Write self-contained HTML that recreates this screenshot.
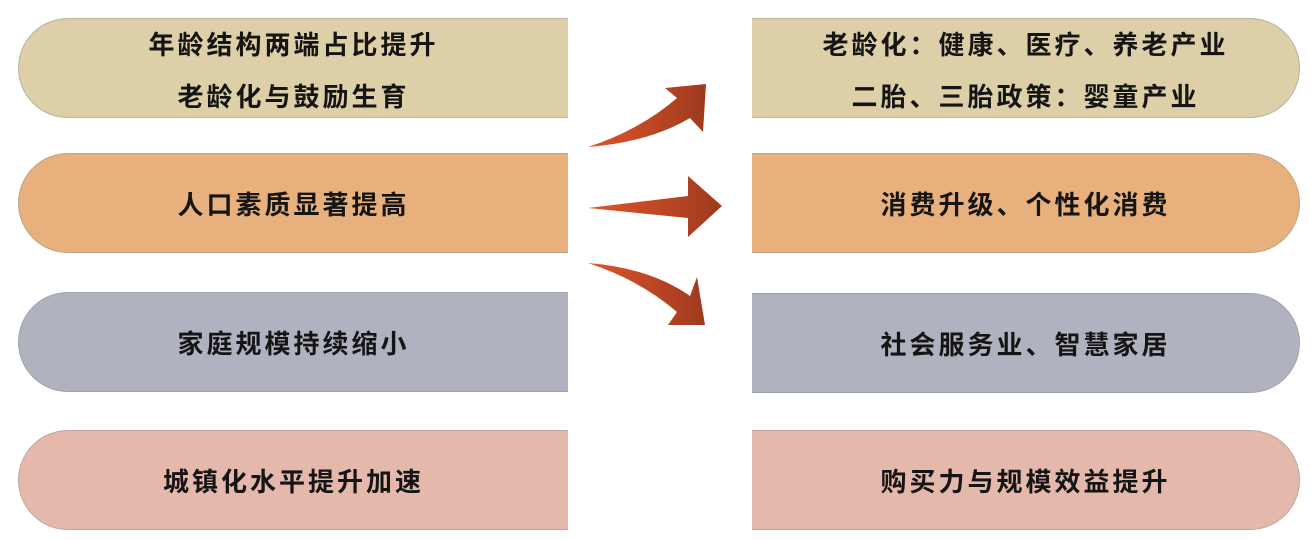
<!DOCTYPE html>
<html><head><meta charset="utf-8"><style>
body{margin:0;width:1311px;height:540px;background:#fff;position:relative;overflow:hidden;font-family:"Liberation Sans","Noto Sans CJK SC",sans-serif;}
.b{position:absolute;height:100px;display:flex;flex-direction:column;align-items:center;justify-content:center;font-size:26px;letter-spacing:3px;font-weight:bold;color:#151515;box-sizing:border-box;border:1.5px solid rgba(150,150,150,0.5);}
.l{left:18px;width:550px;border-radius:50px 0 0 50px;border-right:none;}
.r{left:752px;width:548px;border-radius:0 50px 50px 0;border-left:none;}
.b div{line-height:52px;}
.t{padding-top:6px;}
</style></head><body>
<div class="b l t" style="top:18px;background:#ddd0a8"><div>年龄结构两端占比提升</div><div>老龄化与鼓励生育</div></div>
<div class="b l" style="top:153px;background:#e8b07c">人口素质显著提高</div>
<div class="b l" style="top:292px;background:#b0b2c0">家庭规模持续缩小</div>
<div class="b l" style="top:430px;background:#e5b8ac">城镇化水平提升加速</div>
<div class="b r t" style="top:18px;background:#ddd0a8"><div>老龄化：健康、医疗、养老产业</div><div>二胎、三胎政策：婴童产业</div></div>
<div class="b r" style="top:153px;background:#e8b07c">消费升级、个性化消费</div>
<div class="b r" style="top:293px;background:#b0b2c0">社会服务业、智慧家居</div>
<div class="b r" style="top:430px;background:#e5b8ac">购买力与规模效益提升</div>
<svg width="1311" height="540" style="position:absolute;left:0;top:0">
<defs><linearGradient id="g" x1="0" x2="1" y1="0" y2="0"><stop offset="0" stop-color="#e0552a"/><stop offset="1" stop-color="#9e3a1e"/></linearGradient></defs>
<path d="M588 147 Q640 130 677 98 L665 88 L706 84 L703 132 L690 118 Q650 142 588 147 Z" fill="url(#g)"/>
<path d="M588 208 L688 196 L688 176 L722 206 L688 237 L688 218 Z" fill="url(#g)"/>
<path d="M588 263 Q650 268 690 296 L697 277 L705 325 L668 325 L677 312 Q640 280 588 263 Z" fill="url(#g)"/>
</svg>
</body></html>
